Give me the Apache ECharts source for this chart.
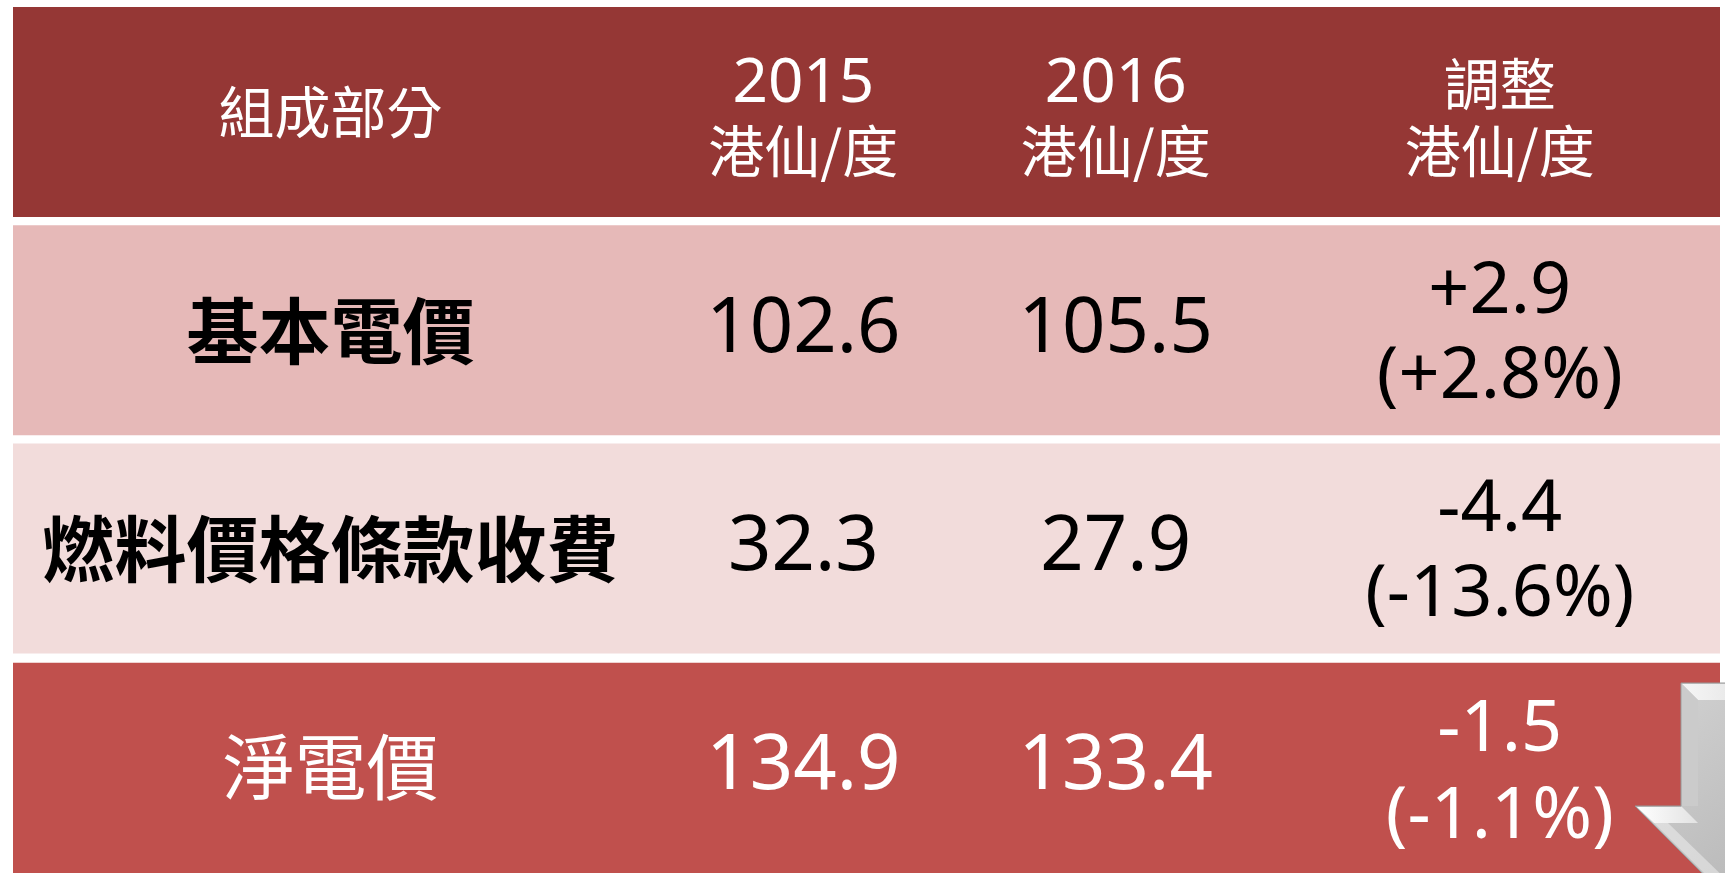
<!DOCTYPE html>
<html>
<head>
<meta charset="utf-8">
<script src="https://cdn.jsdelivr.net/npm/echarts@6/dist/echarts.min.js"></script>
<style>
  html, body { margin: 0; padding: 0; background: #fff; overflow: hidden; }
  #main { width: 1725px; height: 873px; }
</style>
</head>
<body>
<div id="main"></div>
<script>
// 表格資料
const headerLines = [['組成部分'], ['2015', '港仙/度'], ['2016', '港仙/度'], ['調整', '港仙/度']]
const components = ['基本電價', '燃料價格條款收費', '淨電價']
const price2015 = [102.6, 32.3, 134.9]
const price2016 = [105.5, 27.9, 133.4]
const change = [2.9, -4.4, -1.5]
const changePct = [2.8, -13.6, -1.1]

// 版面
const colPos = [18.6, 46.3, 64.6, 87.1]
const rowFill = ['#953735', '#E6B9B8', '#F2DCDB', '#C0504D']
const rowColor = ['#ffffff', '#000000', '#000000', '#ffffff']
const LATIN = '"Noto Sans", "Noto Sans CJK TC", sans-serif'
const CJK = '"Noto Sans CJK TC", sans-serif'

function signed (v) {
  return (v > 0 ? '+' : '') + v.toFixed(1)
}

function cellLines (col, row) {
  if (row === 0) return headerLines[col]
  let i = row - 1
  if (col === 0) return [components[i]]
  if (col === 1) return [price2015[i].toFixed(1)]
  if (col === 2) return [price2016[i].toFixed(1)]
  return [signed(change[i]), '(' + signed(changePct[i]) + '%)']
}

function lineFont (col, row, text) {
  if (row === 0) {
    return /^\d/.test(text) ? 'normal 62px ' + LATIN : 'normal 56px ' + CJK
  }
  if (col === 0) return (row < 3 ? 'bold' : 'normal') + ' 72px ' + CJK
  if (col === 3) return 'normal 72px ' + LATIN
  return 'normal 76px ' + LATIN
}

let rowIds = ['header'].concat(components)
let cells = []
for (let r = 0; r < rowIds.length; r++) {
  for (let c = 0; c < colPos.length; c++) {
    cells.push([colPos[c], r, c])
  }
}

// 下箭頭 (裝飾)
function arrowParts () {
  let grad = (x1, y1, x2, y2, a, b) => new echarts.graphic.LinearGradient(x1, y1, x2, y2, [
    { offset: 0, color: a },
    { offset: 1, color: b }
  ])
  return [
    {
      type: 'polygon',
      z: 100,
      shape: { points: [[1681, 683], [1780, 683], [1780, 806], [1835, 806], [1735, 906], [1635, 806], [1681, 806]] },
      style: { fill: grad(0, 0, 1, 1, '#d4d4d4', '#b0b0b0'), stroke: '#999999', lineWidth: 1 }
    },
    {
      type: 'polygon',
      z: 101,
      shape: { points: [[1682, 684], [1780, 684], [1780, 700], [1698, 700]] },
      style: { fill: grad(0, 0, 1, 0, '#f6f6f6', '#dcdcdc') }
    },
    {
      type: 'polygon',
      z: 101,
      shape: { points: [[1682, 684], [1698, 700], [1698, 806], [1682, 806]] },
      style: { fill: '#cbcbcb' }
    },
    {
      type: 'polygon',
      z: 101,
      shape: { points: [[1637, 807], [1682, 807], [1698, 823], [1654, 823]] },
      style: { fill: grad(0, 0, 1, 0, '#ffffff', '#e2e2e2') }
    },
    {
      type: 'polygon',
      z: 101,
      shape: { points: [[1654, 823], [1735, 904], [1735, 888], [1668, 823]] },
      style: { fill: 'rgba(255,255,255,0.4)' }
    }
  ]
}

let myChart = echarts.init(document.getElementById('main'))

let option = {
  animation: false,
  grid: { left: 13, right: 5, top: 7, bottom: -7, outerBoundsMode: 'none', containLabel: false },
  xAxis: { type: 'value', min: 0, max: 100, show: false },
  yAxis: { type: 'category', data: rowIds, inverse: true, show: false },
  series: [
    {
      type: 'custom',
      data: rowIds.map((id, i) => [0, i]),
      encode: { x: 0, y: 1 },
      clip: false,
      renderItem: function (params, api) {
        let row = api.value(1)
        let start = api.coord([0, row])
        let end = api.coord([100, row])
        let bw = api.size([0, 1])[1]
        // 最後一列延伸到底
        let h = row === rowIds.length - 1 ? bw + 10 : bw - 8.3
        return {
          type: 'rect',
          shape: { x: start[0], y: start[1] - bw / 2 + (row === 3 ? 1 : 0), width: end[0] - start[0], height: h },
          style: { fill: rowFill[row] }
        }
      }
    },
    {
      type: 'custom',
      data: cells,
      encode: { x: 0, y: 1 },
      z: 3,
      renderItem: function (params, api) {
        let row = api.value(1)
        let col = api.value(2)
        let p = api.coord([api.value(0), row])
        let lines = cellLines(col, row)
        let offsets
        if (lines.length === 1) offsets = [-4]
        else if (row === 0) offsets = [-32, 35]
        else if (row === 3) offsets = [-40, 47]
        else offsets = [-42, 43]
        return {
          type: 'group',
          children: lines.map((t, k) => ({
            type: 'text',
            x: p[0],
            y: p[1] + offsets[k],
            style: {
              text: t,
              font: lineFont(col, row, t),
              fill: rowColor[row],
              align: 'center',
              verticalAlign: 'middle',
              textAlign: 'center',
              textVerticalAlign: 'middle'
            }
          }))
        }
      }
    }
  ],
  graphic: arrowParts()
}

myChart.setOption(option)
</script>
</body>
</html>
